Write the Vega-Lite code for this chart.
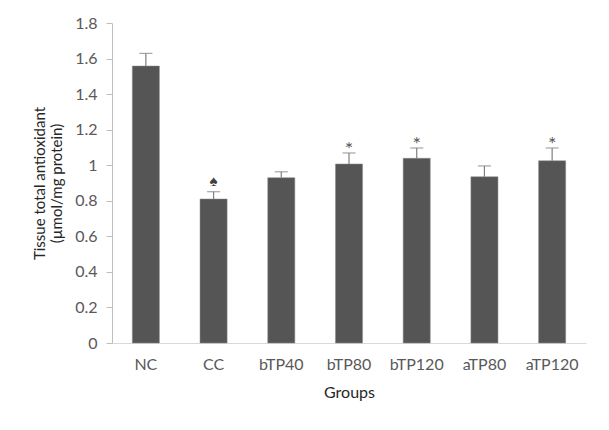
{
  "$schema": "https://vega.github.io/schema/vega-lite/v6.json",
  "autosize": {"type": "none"},
  "width": 474,
  "height": 320,
  "padding": {"left": 112, "top": 23, "right": 23, "bottom": 87},
  "background": "white",
  "config": {
    "view": {"stroke": null},
    "font": "Lato",
    "axis": {"labelFont": "Lato", "titleFont": "Lato", "labelColor": "#595959", "titleColor": "#262626", "labelFontSize": 16, "titleFontSize": 15, "titleFontWeight": "normal", "grid": false, "labelOverlap": false}
  },
  "data": {
    "values": [
      {"group": "NC", "value": 1.558, "upper": 1.629, "sig": ""},
      {"group": "CC", "value": 0.81, "upper": 0.851, "sig": "♠"},
      {"group": "bTP40", "value": 0.93, "upper": 0.963, "sig": ""},
      {"group": "bTP80", "value": 1.007, "upper": 1.069, "sig": "*"},
      {"group": "bTP120", "value": 1.039, "upper": 1.097, "sig": "*"},
      {"group": "aTP80", "value": 0.935, "upper": 0.996, "sig": ""},
      {"group": "aTP120", "value": 1.025, "upper": 1.097, "sig": "*"}
    ]
  },
  "encoding": {
    "x": {
      "field": "group", "type": "nominal", "sort": null,
      "scale": {"paddingInner": 0.6, "paddingOuter": 0.3},
      "axis": {"title": "Groups", "titleFontSize": 16, "labelAngle": 0, "ticks": false, "domainColor": "#d9d9d9", "labelPadding": 13, "titlePadding": 12}
    },
    "y": {
      "field": "value", "type": "quantitative",
      "scale": {"domain": [0, 1.8], "nice": false, "zero": true},
      "axis": {"values": [0, 0.2, 0.4, 0.6, 0.8, 1, 1.2, 1.4, 1.6, 1.8], "tickCount": 20, "labelOverlap": false, "labelBound": false, "format": "~g", "title": ["Tissue total antioxidant", "(µmol/mg protein)"], "titleLineHeight": 17, "titlePadding": 10, "domainColor": "#bfbfbf", "tickColor": "#bfbfbf", "tickSize": 6, "labelPadding": 9}
    }
  },
  "layer": [
    {
      "mark": {"type": "bar", "fill": "#555555", "stroke": "#8a8a8a", "strokeWidth": 0.5}
    },
    {
      "mark": {"type": "rule", "color": "#7f7f7f", "strokeWidth": 1.2},
      "encoding": {
        "y2": {"field": "upper"}
      }
    },
    {
      "mark": {"type": "tick", "color": "#7f7f7f", "size": 13, "thickness": 1.2},
      "encoding": {
        "y": {"field": "upper", "type": "quantitative"}
      }
    },
    {
      "transform": [{"filter": "datum.sig == '*'"}],
      "mark": {"type": "text", "color": "#595959", "fontSize": 20, "baseline": "middle", "dy": -3},
      "encoding": {
        "y": {"field": "upper", "type": "quantitative"},
        "text": {"field": "sig"}
      }
    },
    {
      "transform": [{"filter": "datum.sig == '♠'"}],
      "mark": {"type": "text", "color": "#404040", "fontSize": 15, "baseline": "middle", "dy": -11},
      "encoding": {
        "y": {"field": "upper", "type": "quantitative"},
        "text": {"field": "sig"}
      }
    }
  ]
}
